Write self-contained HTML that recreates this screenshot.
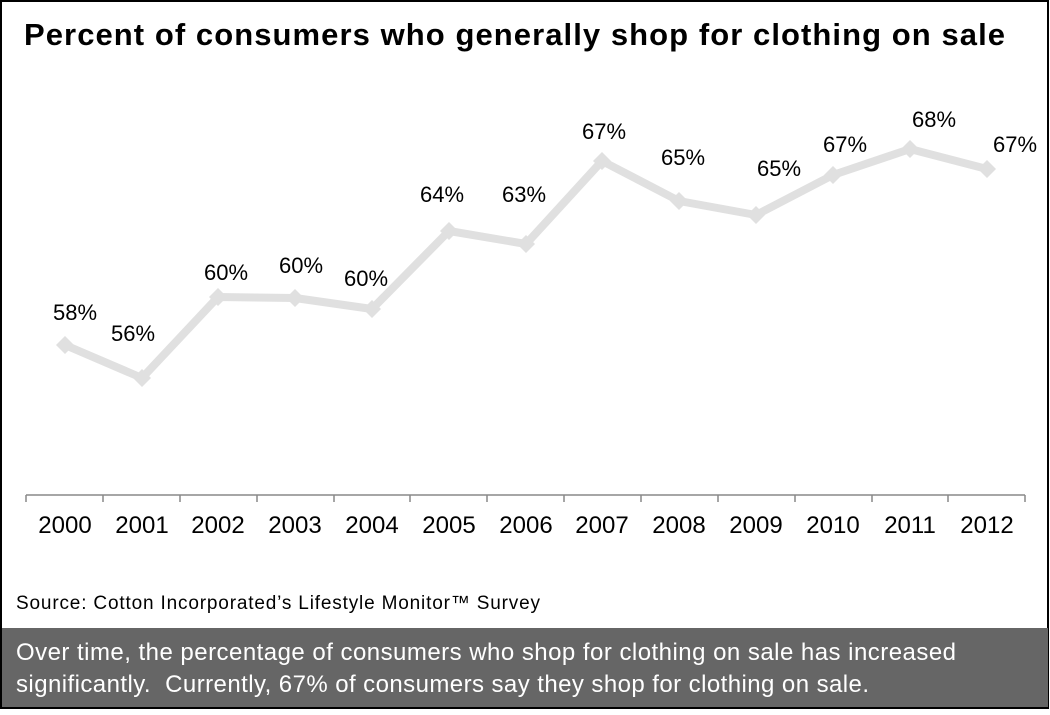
<!DOCTYPE html>
<html><head><style>
body{margin:0;width:1050px;height:710px;overflow:hidden;background:#fff;font-family:"Liberation Sans",Arial,sans-serif}
</style></head><body>
<svg width="1050" height="710" xmlns="http://www.w3.org/2000/svg" font-family="Liberation Sans, Arial, sans-serif">
<rect x="1" y="1" width="1047" height="707" fill="#fff" stroke="#000" stroke-width="2"/>
<text x="24" y="45" font-size="31" font-weight="bold" fill="#000" textLength="981" lengthAdjust="spacing">Percent of consumers who generally shop for clothing on sale</text>
<line x1="26" y1="495" x2="1025" y2="495" stroke="#888" stroke-width="1.5"/>
<g stroke="#888" stroke-width="1.5">
<line x1="26" y1="495" x2="26" y2="502"/><line x1="103" y1="495" x2="103" y2="502"/><line x1="180" y1="495" x2="180" y2="502"/><line x1="257" y1="495" x2="257" y2="502"/><line x1="334" y1="495" x2="334" y2="502"/><line x1="410" y1="495" x2="410" y2="502"/><line x1="487" y1="495" x2="487" y2="502"/><line x1="564" y1="495" x2="564" y2="502"/><line x1="641" y1="495" x2="641" y2="502"/><line x1="718" y1="495" x2="718" y2="502"/><line x1="795" y1="495" x2="795" y2="502"/><line x1="872" y1="495" x2="872" y2="502"/><line x1="948" y1="495" x2="948" y2="502"/><line x1="1025" y1="495" x2="1025" y2="502"/>
</g>
<g font-size="24" text-anchor="middle" fill="#000">
<text x="65" y="533">2000</text><text x="142" y="533">2001</text><text x="218" y="533">2002</text><text x="295" y="533">2003</text><text x="372" y="533">2004</text><text x="449" y="533">2005</text><text x="526" y="533">2006</text><text x="602" y="533">2007</text><text x="679" y="533">2008</text><text x="756" y="533">2009</text><text x="833" y="533">2010</text><text x="910" y="533">2011</text><text x="987" y="533">2012</text>
</g>
<polyline fill="none" stroke="#e0e0e0" stroke-width="8" stroke-linejoin="round" points="65,345 142,378 218,297 295,298 372,309 449,231 526,244 602,161 679,201 756,215 833,175 910,149 987,169"/>
<g fill="#e0e0e0">
<path d="M65,336 l9,9 -9,9 -9,-9z"/><path d="M142,369 l9,9 -9,9 -9,-9z"/><path d="M218,288 l9,9 -9,9 -9,-9z"/><path d="M295,289 l9,9 -9,9 -9,-9z"/><path d="M372,300 l9,9 -9,9 -9,-9z"/><path d="M449,222 l9,9 -9,9 -9,-9z"/><path d="M526,235 l9,9 -9,9 -9,-9z"/><path d="M602,152 l9,9 -9,9 -9,-9z"/><path d="M679,192 l9,9 -9,9 -9,-9z"/><path d="M756,206 l9,9 -9,9 -9,-9z"/><path d="M833,166 l9,9 -9,9 -9,-9z"/><path d="M910,140 l9,9 -9,9 -9,-9z"/><path d="M987,160 l9,9 -9,9 -9,-9z"/>
</g>
<g font-size="22" text-anchor="middle" fill="#000">
<text x="75" y="320">58%</text><text x="133" y="341">56%</text><text x="226" y="280">60%</text><text x="301" y="273">60%</text><text x="366" y="286">60%</text><text x="442" y="202">64%</text><text x="524" y="202">63%</text><text x="604" y="139">67%</text><text x="683" y="165">65%</text><text x="779" y="176">65%</text><text x="845" y="152">67%</text><text x="934" y="127">68%</text><text x="1015" y="152">67%</text>
</g>
<text x="16" y="609" font-size="19" fill="#000" textLength="524" lengthAdjust="spacing">Source: Cotton Incorporated’s Lifestyle Monitor™ Survey</text>
<rect x="2" y="628" width="1046" height="79" fill="#666"/>
<text x="16" y="660" font-size="24" fill="#fff" textLength="940" lengthAdjust="spacing">Over time, the percentage of consumers who shop for clothing on sale has increased</text>
<text x="16" y="692" font-size="24" fill="#fff" textLength="853" lengthAdjust="spacing" xml:space="preserve">significantly.  Currently, 67% of consumers say they shop for clothing on sale.</text>
</svg>
</body></html>
